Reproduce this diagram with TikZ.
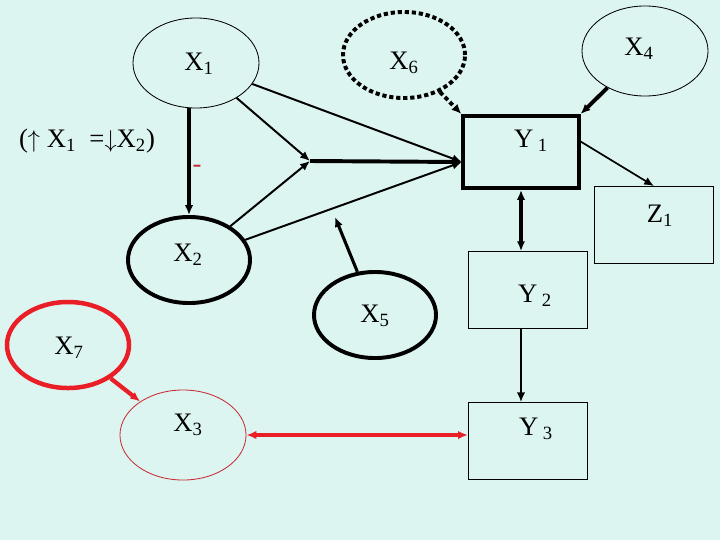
\documentclass[tikz,border=0pt]{standalone}
\usepackage{fontspec}
\setmainfont{Liberation Serif}
\usetikzlibrary{shapes.geometric,arrows.meta}
\definecolor{bg}{RGB}{221,245,241}
\definecolor{myred}{RGB}{234,30,38}
\definecolor{thinred}{RGB}{200,45,55}
\newdimen\px \px=0.7113pt
\newcommand{\lbl}[3]{\makebox[0pt]{\hspace*{#1\px}\hspace*{#1\px}\raisebox{\dimexpr#2\px-6.3pt\relax}[0pt][0pt]{#3}}}
\begin{document}
\begin{tikzpicture}[x=0.025cm,y=-0.025cm,font=\fontsize{19}{23}\selectfont,>={Latex[length=7pt,width=6pt]},
    el/.style={ellipse,draw,minimum width=3.15cm,minimum height=2.25cm,inner sep=0pt,line width=0.6pt},
    thickel/.style={el,minimum width=3.05cm,minimum height=2.15cm,line width=2.8pt},
    bx/.style={rectangle,draw,minimum width=2.98cm,minimum height=1.92cm,inner sep=0pt,line width=0.7pt}]
        \fill[bg](0,0)rectangle(720,540);
        \node[el](x1)at(196,63){\lbl{3}{1}{X\textsubscript{1}}};
        \node[thickel,dash pattern=on 3pt off 2pt](x6)at(404,55){\lbl{0}{-6}{X\textsubscript{6}}};
        \node[el](x4)at(645,51){\lbl{-6}{4}{X\textsubscript{4}}};
        \node[bx,minimum width=2.88cm,minimum height=1.8cm,line width=2.8pt](y1)at(521,152){\lbl{10}{13}{Y\,\textsubscript{1}}};
        \node[bx](z1)at(654,225){\lbl{6}{11}{Z\textsubscript{1}}};
        \node[thickel](x2)at(189,260){\lbl{-1}{7}{X\textsubscript{2}}};
        \node[thickel](x5)at(375,315){\lbl{0}{1}{X\textsubscript{5}}};
        \node[bx](y2)at(528,290){\lbl{7}{-4}{Y\,\textsubscript{2}}};
        \node[bx](y3)at(528,441){\lbl{8}{14}{Y\,\textsubscript{3}}};
        \node[thickel,draw=myred,line width=3.2pt](x7)at(68,345){\lbl{1}{-1}{X\textsubscript{7}}};
        \node[el,draw=thinred](x3)at(183,435){\lbl{5}{12}{X\textsubscript{3}}};
        \node(eq)at(87,141){($\uparrow$ X\textsubscript{1}\ \ =$\downarrow$X\textsubscript{2})};
        \node[text=thinred](m)at(197,169){-};
        \coordinate(j)at(310,161);
        \coordinate(y1w)at(462,162);
        \coordinate(k)at(335,217);
        \draw[->,line width=1.4pt](x1)--(j);
        \draw[->,line width=1.4pt](x1)--(y1w);
        \draw[->,line width=1.4pt](x2)--(j);
        \draw[->,line width=1.4pt](x2)--(y1w);
        \draw[->,line width=2.8pt](j)--(y1w);
        \draw[->,line width=2.2pt](x1.south-|x2.north)--(x2.north);
        \draw[->,line width=2.2pt](x5)--(k);
        \draw[->,line width=2.8pt,dash pattern=on 3pt off 2pt](x6)--(y1.north west);
        \draw[->,line width=2.8pt](x4)--(y1.north east);
        \draw[->,line width=1.2pt](y1.10)--(z1.north);
        \draw[<->,line width=2.2pt](y1.south)--(y1.south|-y2.north);
        \draw[->,line width=1.2pt](y2.south-|y1.south)--(y3.north-|y1.south);
        \draw[->,myred,line width=3pt](x7)--(x3);
        \draw[<->,myred,line width=3pt](x3.east)--(x3.east-|y3.west);
    \end{tikzpicture}
\end{document}
